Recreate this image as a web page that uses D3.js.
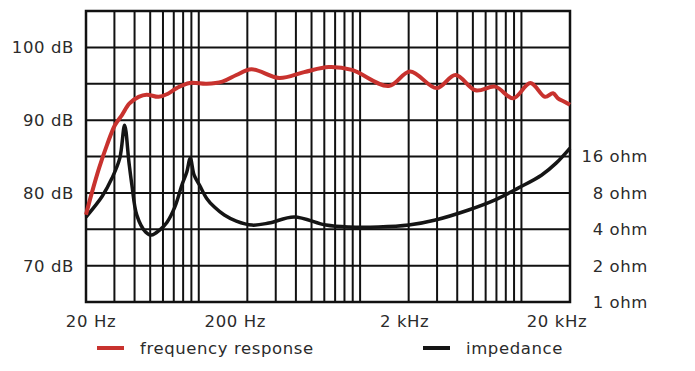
<!DOCTYPE html>
<html>
<head>
<meta charset="utf-8">
<script src="https://cdn.jsdelivr.net/npm/d3@7"></script>
<style>
  body { margin: 0; background: #fff; }
  text { font-family: "DejaVu Sans", Verdana, sans-serif; fill: #2b2b2b; letter-spacing: 0.6px; }
</style>
</head>
<body>
<div id="chart"></div>
<script>
// frequency response (Hz, dB)
var respFreq = [20, 21.8, 24.1, 27, 30.2, 33.4, 37.2, 42.4, 47.5, 56.4, 64, 73, 88, 112, 140, 171, 212, 315, 450, 640, 890, 1506, 2040, 2980, 3900, 5200, 6870, 8900, 11360, 14000, 15700, 16840, 18600, 20000];
var respDb   = [77.0, 80.1, 83.4, 86.6, 89.3, 90.7, 92.3, 93.2, 93.5, 93.2, 93.6, 94.4, 95.1, 95.0, 95.3, 96.2, 97.0, 95.8, 96.6, 97.3, 96.9, 94.7, 96.7, 94.4, 96.2, 94.1, 94.6, 93.0, 95.1, 93.2, 93.7, 93.0, 92.5, 92.1];

// impedance (Hz, ohm)
var impFreq = [20, 25.2, 29, 32.4, 34.7, 36.9, 38.5, 41.3, 46.8, 51, 57.2, 63.6, 71, 78.6, 84.3, 88.6, 93.6, 101, 112, 125, 144, 171, 214, 272, 390, 614, 854, 1300, 2000, 2930, 4700, 6870, 9540, 13300, 16400, 20000];
var impOhm  = [5.05, 7.5, 10.6, 15.5, 29, 14.4, 9.3, 5.24, 3.8, 3.58, 3.94, 4.58, 6.1, 9.3, 11.9, 15.5, 11.2, 9.3, 7.2, 6.1, 5.25, 4.67, 4.33, 4.5, 5.05, 4.33, 4.17, 4.17, 4.33, 4.77, 5.77, 7.0, 8.76, 11.2, 14.1, 18.8];

// axis labels
var dbTicks = [70, 80, 90, 100];
var ohmTicks = [1, 2, 4, 8, 16];
var freqTicks = [20, 200, 2000, 20000];
var freqLabels = ["20 Hz", "200 Hz", "2 kHz", "20 kHz"];

var svgWidth = 695;
var svgHeight = 371;

var margin = { top: 11, left: 86, right: 125, bottom: 69 };
var width = svgWidth - margin.left - margin.right;
var height = svgHeight - margin.top - margin.bottom;

var svg = d3.select("#chart")
  .append("svg")
  .attr("width", svgWidth)
  .attr("height", svgHeight);

var chartGroup = svg.append("g")
  .attr("transform", `translate(${margin.left}, ${margin.top})`);

var x = d3.scaleLog().domain([20, 20000]).range([0, width]);
var yDb = d3.scaleLinear().domain([65, 105]).range([height, 0]);
var yOhm = d3.scaleLog().base(2).domain([1, 256]).range([height, 0]);

// grid
chartGroup.selectAll(".vgrid")
  .data(x.ticks())
  .enter()
  .append("line")
  .attr("x1", d => x(d))
  .attr("x2", d => x(d))
  .attr("y1", 0)
  .attr("y2", height)
  .attr("stroke", "#111")
  .attr("stroke-width", 2);

chartGroup.selectAll(".hgrid")
  .data(d3.range(65, 106, 5))
  .enter()
  .append("line")
  .attr("x1", 0)
  .attr("x2", width)
  .attr("y1", d => yDb(d))
  .attr("y2", d => yDb(d))
  .attr("stroke", "#111")
  .attr("stroke-width", 2);

chartGroup.append("rect")
  .attr("width", width)
  .attr("height", height)
  .attr("fill", "none")
  .attr("stroke", "#111")
  .attr("stroke-width", 2.5);

// curves
var respLine = d3.line()
  .x((d, i) => x(respFreq[i]))
  .y(d => yDb(d))
  .curve(d3.curveCatmullRom.alpha(0.5));

var impLine = d3.line()
  .x((d, i) => x(impFreq[i]))
  .y(d => yOhm(d))
  .curve(d3.curveCatmullRom.alpha(0.5));

chartGroup.append("path")
  .datum(impOhm)
  .attr("d", impLine)
  .attr("fill", "none")
  .attr("stroke", "#151515")
  .attr("stroke-width", 3.5)
  .attr("stroke-linejoin", "round");

chartGroup.append("path")
  .datum(respDb)
  .attr("d", respLine)
  .attr("fill", "none")
  .attr("stroke", "#c8322e")
  .attr("stroke-width", 4)
  .attr("stroke-linejoin", "round");

// axis labels
chartGroup.selectAll(".dblabel")
  .data(dbTicks)
  .enter()
  .append("text")
  .attr("x", -12)
  .attr("y", d => yDb(d))
  .attr("dy", "0.36em")
  .attr("text-anchor", "end")
  .attr("font-size", "16.5px")
  .text(d => d + " dB");

chartGroup.selectAll(".ohmlabel")
  .data(ohmTicks)
  .enter()
  .append("text")
  .attr("x", width + 78)
  .attr("y", d => yOhm(d))
  .attr("dy", "0.36em")
  .attr("text-anchor", "end")
  .attr("font-size", "16.5px")
  .text(d => d + " ohm");

var labelShift = [5, -12, -4, -13];
chartGroup.selectAll(".flabel")
  .data(freqTicks)
  .enter()
  .append("text")
  .attr("x", (d, i) => x(d) + labelShift[i])
  .attr("y", height + 25)
  .attr("text-anchor", "middle")
  .attr("font-size", "16.5px")
  .text((d, i) => freqLabels[i]);

// legend
var legend = svg.append("g");
var legendItems = [
  { label: "frequency response", color: "#c8322e", x: 97 },
  { label: "impedance", color: "#151515", x: 423 }
];
legendItems.forEach(function(item) {
  legend.append("line")
    .attr("x1", item.x)
    .attr("x2", item.x + 27)
    .attr("y1", 348)
    .attr("y2", 348)
    .attr("stroke", item.color)
    .attr("stroke-width", 4);
  legend.append("text")
    .attr("x", item.x + 43)
    .attr("y", 354)
    .attr("font-size", "16.5px")
    .text(item.label);
});
</script>
</body>
</html>
